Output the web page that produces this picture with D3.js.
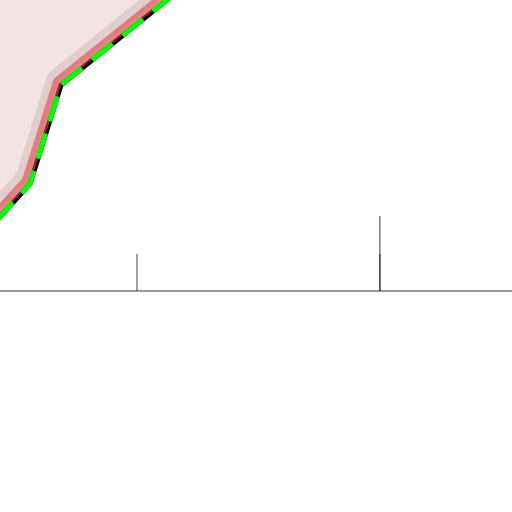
<!DOCTYPE html>
<html>
<head>
<meta charset="utf-8">
<script src="https://cdn.jsdelivr.net/npm/d3@7"></script>
<style>
  html, body { margin: 0; padding: 0; background: #fff; }
  svg { display: block; }
</style>
</head>
<body>
<svg id="chart" width="512" height="512"></svg>
<script>
// Data
const xValues = [-3, 2.93, 5.96, 27.3];
const yValues = [1.38, 3.68, 7.08, 13.1];
const rugX = [13.38, 37.1, 37.1];
const rugTop = [1.27, 1.27, 2.58];
const xDomain = [0, 50];
const yDomain = [0, 10];
const fillTop = 16;

const W = 512, H = 512;
const svg = d3.select("#chart");
const x = d3.scaleLinear().domain(xDomain).range([0, W]);
const y = d3.scaleLinear().domain(yDomain).range([291, 0]);

const pts = xValues.map((v, i) => ({ x: v, y: yValues[i] }));

const area = d3.area().x(d => x(d.x)).y0(y(fillTop)).y1(d => y(d.y));
const line = d3.line().x(d => x(d.x)).y(d => y(d.y));

svg.append("path").attr("d", area(pts)).attr("fill", "#f4e3e3");

svg.append("path").attr("d", line(pts))
  .attr("fill", "none").attr("stroke", "rgba(60,30,30,0.11)")
  .attr("stroke-width", 12).attr("stroke-linejoin", "round")
  .attr("transform", "translate(-8,-8)");

svg.append("path").attr("d", line(pts))
  .attr("fill", "none").attr("stroke", "#000")
  .attr("stroke-width", 5).attr("stroke-linejoin", "round");

svg.append("path").attr("d", line(pts))
  .attr("fill", "none").attr("stroke", "rgba(222,70,70,0.6)")
  .attr("stroke-width", 9).attr("stroke-linejoin", "round")
  .attr("transform", "translate(-3.5,-3.5)");

svg.append("path").attr("d", line(pts))
  .attr("fill", "none").attr("stroke", "#00ff00")
  .attr("stroke-width", 5).attr("stroke-dasharray", "26,13")
  .attr("stroke-linejoin", "round");

// baseline
svg.append("line")
  .attr("x1", 0).attr("x2", W)
  .attr("y1", y(0)).attr("y2", y(0))
  .attr("stroke", "#999").attr("stroke-width", 2);

// rug ticks
svg.selectAll("line.rug").data(rugX).join("line").attr("class", "rug")
  .attr("x1", d => x(d)).attr("x2", d => x(d))
  .attr("y1", y(0)).attr("y2", (d, i) => y(rugTop[i]))
  .attr("stroke", "rgba(0,0,0,0.5)").attr("stroke-width", 1.5);
</script>
</body>
</html>
